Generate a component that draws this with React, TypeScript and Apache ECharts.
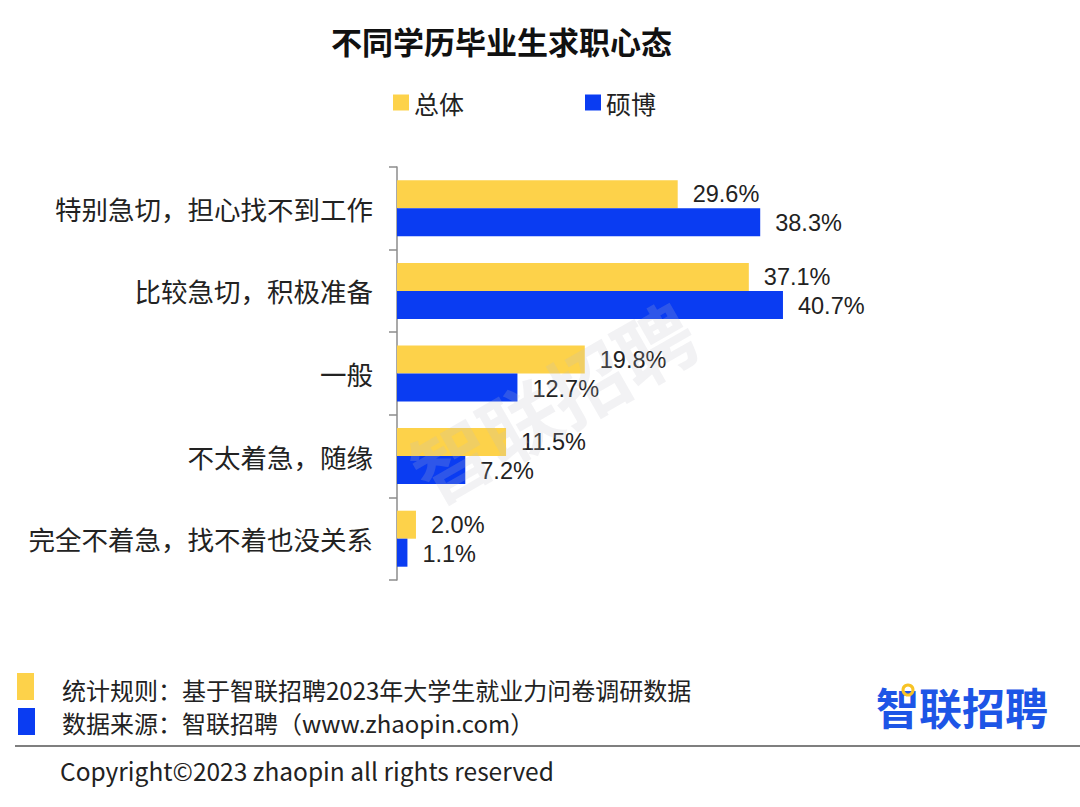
import React, { useEffect, useRef } from "react";
import * as echarts from "echarts";

const categories = [
  "特别急切，担心找不到工作",
  "比较急切，积极准备",
  "一般",
  "不太着急，随缘",
  "完全不着急，找不着也没关系",
];
const seriesNames = ["总体", "硕博"];
const overallValues = [29.6, 37.1, 19.8, 11.5, 2.0];
const masterPhdValues = [38.3, 40.7, 12.7, 7.2, 1.1];

const titleText = "不同学历毕业生求职心态";
const noteLines = [
  "统计规则：基于智联招聘2023年大学生就业力问卷调研数据",
  "数据来源：智联招聘（www.zhaopin.com）",
];
const copyrightText = "Copyright©2023 zhaopin all rights reserved";
const logoText = "智联招聘";

const YELLOW = "#FDD24A";
const BLUE = "#0A3CF2";
const FONT = '"Noto Sans CJK SC", "Noto Sans", sans-serif';
const LABEL_FONT = '"Liberation Sans", "Noto Sans", sans-serif';

export default function App() {
  const ref = useRef<HTMLDivElement>(null);
  useEffect(() => {
    if (!ref.current) return;
    const chart = echarts.init(ref.current, null, { renderer: "svg" });
    const labelStyle = {
      show: true,
      position: "right",
      distance: 15,
      formatter: (p: any) => Number(p.value).toFixed(1) + "%",
      color: "#222",
      fontSize: 23.5,
      fontFamily: LABEL_FONT,
    };
    chart.setOption({
      animation: false,
      backgroundColor: "#fff",
      textStyle: { fontFamily: FONT },
      title: {
        text: titleText,
        left: 326,
        top: 20,
        textStyle: { fontSize: 31, fontWeight: "bold", color: "#111", fontFamily: FONT },
      },
      legend: {
        left: 388,
        top: 85,
        icon: "rect",
        itemWidth: 16,
        itemHeight: 16,
        itemGap: 121,
        textStyle: { fontSize: 25, color: "#222", fontFamily: FONT },
        data: seriesNames,
      },
      grid: { left: 397, top: 167, width: 569, height: 413, containLabel: false },
      xAxis: {
        type: "value",
        min: 0,
        max: 60,
        show: false,
      },
      yAxis: {
        type: "category",
        inverse: true,
        data: categories,
        axisLine: { show: true, lineStyle: { color: "#8c8c8c", width: 1.5 } },
        axisTick: { show: true, length: 8, lineStyle: { color: "#8c8c8c", width: 1.5 } },
        axisLabel: { margin: 24, fontSize: 26.5, color: "#222", fontFamily: FONT },
        splitLine: { show: false },
      },
      series: [
        {
          name: seriesNames[0],
          type: "bar",
          data: overallValues,
          barWidth: 28,
          barGap: "0%",
          itemStyle: { color: YELLOW },
          label: { ...labelStyle, offset: [0, 0] },
        },
        {
          name: seriesNames[1],
          type: "bar",
          data: masterPhdValues,
          barWidth: 28,
          barGap: "0%",
          itemStyle: { color: BLUE },
          label: { ...labelStyle, offset: [0, 1] },
        },
      ],
      graphic: [
        {
          type: "text",
          x: 552,
          y: 400,
          rotation: 0.52,
          z: 100,
          silent: true,
          style: {
            text: logoText,
            fontSize: 78,
            fontWeight: "bold",
            fontFamily: FONT,
            fill: "rgba(190,190,200,0.2)",
            align: "center",
            verticalAlign: "middle",
          },
        },
        { type: "rect", shape: { x: 17, y: 673, width: 17, height: 27 }, style: { fill: YELLOW } },
        { type: "rect", shape: { x: 18, y: 708, width: 17, height: 27 }, style: { fill: BLUE } },
        {
          type: "text",
          x: 62,
          y: 689,
          style: { text: noteLines[0], fontSize: 24, fill: "#222", fontFamily: FONT, verticalAlign: "middle" },
        },
        {
          type: "text",
          x: 62,
          y: 722,
          style: { text: noteLines[1], fontSize: 24, fill: "#222", fontFamily: FONT, verticalAlign: "middle" },
        },
        {
          type: "line",
          shape: { x1: 15, y1: 746, x2: 1080, y2: 746 },
          style: { stroke: "#555", lineWidth: 1.5 },
        },
        {
          type: "text",
          x: 60,
          y: 770,
          style: { text: copyrightText, fontSize: 24.5, fill: "#222", fontFamily: FONT, verticalAlign: "middle" },
        },
        {
          type: "text",
          x: 876,
          y: 706,
          style: {
            text: logoText,
            fontSize: 43,
            fontWeight: "bold",
            fill: "#1D55E6",
            fontFamily: FONT,
            verticalAlign: "middle",
          },
        },
        { type: "circle", shape: { cx: 908, cy: 690, r: 5 }, style: { fill: "none", stroke: "#F7C325", lineWidth: 3 } },
      ],
    });
    return () => chart.dispose();
  }, []);
  return (
    <div
      ref={ref}
      style={{ position: "absolute", left: 0, top: 0, width: 1080, height: 807 }}
    />
  );
}
